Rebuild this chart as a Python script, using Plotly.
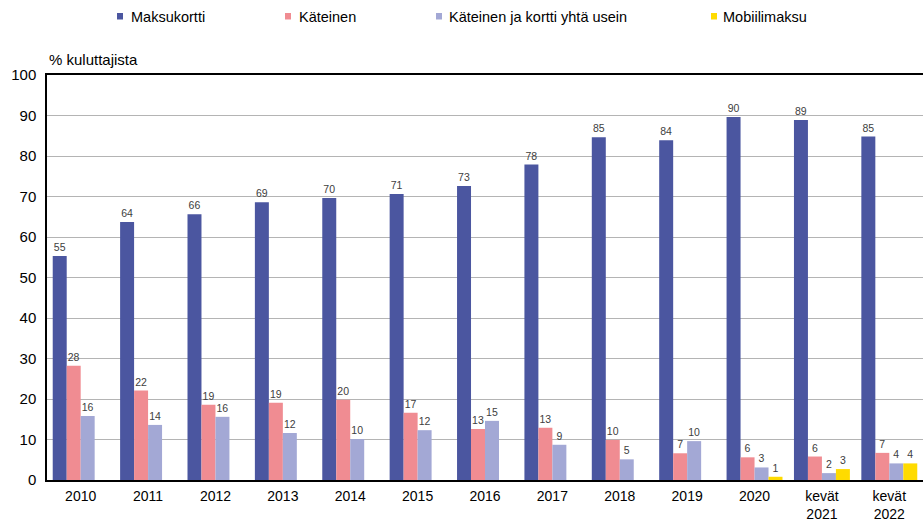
import plotly.graph_objects as go

categories = ["2010", "2011", "2012", "2013", "2014", "2015", "2016", "2017",
              "2018", "2019", "2020", "kevät<br>2021", "kevät<br>2022"]
series_names = ["Maksukortti", "Käteinen", "Käteinen ja kortti yhtä usein", "Mobiilimaksu"]
maksukortti = [55.3, 63.7, 65.6, 68.6, 69.6, 70.6, 72.6, 77.9, 84.6, 83.9, 89.6, 88.9, 84.8]
kateinen = [28.2, 22.1, 18.6, 19.1, 19.8, 16.6, 12.6, 12.9, 9.9, 6.6, 5.6, 5.8, 6.7]
molemmat = [15.8, 13.6, 15.6, 11.6, 10.1, 12.3, 14.6, 8.7, 5.1, 9.6, 3.1, 1.7, 4.1]
mobiili = [None, None, None, None, None, None, None, None, None, None, 0.8, 2.7, 4.1]
y_ticks = [0, 10, 20, 30, 40, 50, 60, 70, 80, 90, 100]
y_title = "% kuluttajista"

colors = ["#4B56A0", "#F08C92", "#A3A8D5", "#FFDB00"]
values = [maksukortti, kateinen, molemmat, mobiili]

W, H = 923, 522
ML, MR, MT, MB = 47, 0, 75, 42
PW, PH = W - ML - MR, H - MT - MB
FONT = "Liberation Sans, Arial, sans-serif"


def px(x):
    return (x - ML) / PW


def py(y):
    return (H - MB - y) / PH


fig = go.Figure()
for name, vals, col in zip(series_names, values, colors):
    texts = ["" if v is None else "{:.0f}".format(v) for v in vals]
    fig.add_trace(go.Bar(
        x=categories, y=vals, name=name, marker=dict(color=col, line=dict(width=0)),
        text=texts, textposition="outside", texttemplate="%{text}",
        textfont=dict(size=10.5, color="#404040", family=FONT),
        constraintext="none", cliponaxis=False, showlegend=False,
    ))

# legend drawn manually to match reference spacing
legend_pos = [(117, 129), (285, 297), (436, 447), (711, 721)]
shapes = []
annotations = []
for (sx, tx), name, col in zip(legend_pos, series_names, colors):
    shapes.append(dict(type="rect", xref="paper", yref="paper",
                       x0=px(sx), x1=px(sx + 6), y0=py(19.5), y1=py(13),
                       fillcolor=col, line=dict(width=0)))
    annotations.append(dict(xref="paper", yref="paper", x=px(tx), y=py(16.5),
                            text=name, showarrow=False, xanchor="left", yanchor="middle",
                            font=dict(size=14.5, color="#000000", family=FONT)))
annotations.append(dict(xref="paper", yref="paper", x=px(47), y=py(59),
                        text=y_title, showarrow=False, xanchor="left", yanchor="middle",
                        font=dict(size=15, color="#000000", family=FONT)))

fig.update_layout(
    width=W, height=H,
    margin=dict(l=ML, r=MR, t=MT, b=MB, pad=0, autoexpand=False),
    paper_bgcolor="white", plot_bgcolor="white",
    barmode="group", bargap=0.17, bargroupgap=0,
    font=dict(family=FONT, size=15, color="#000000"),
    shapes=shapes, annotations=annotations,
    xaxis=dict(type="category", showgrid=False, showline=True, linecolor="#000000",
               linewidth=1.5, mirror=True, ticks="", tickfont=dict(size=14),
               ticklabelstandoff=2, automargin=False),
    yaxis=dict(range=[0, 100], tickvals=y_ticks, showgrid=True, gridcolor="#B4B4B4",
               gridwidth=1, showline=True, linecolor="#000000", linewidth=1.5,
               ticks="", tickfont=dict(size=15), zeroline=False, ticklabelstandoff=6,
               automargin=False),
)

fig.write_html("out.html", config={"displayModeBar": False},
               post_script="document.body.style.margin='0';document.body.style.overflow='hidden';")
